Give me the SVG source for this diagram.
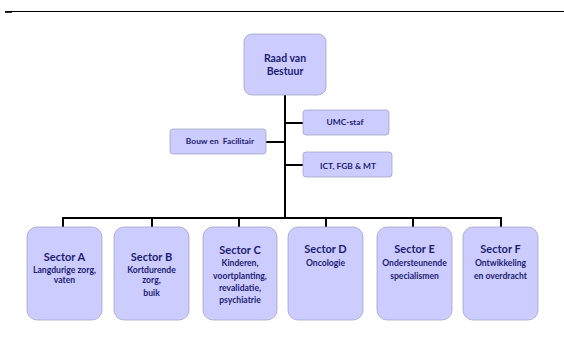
<svg xmlns="http://www.w3.org/2000/svg" width="564" height="339" viewBox="0 0 564 339">
<style>
.box{fill:#ccccff;stroke:#a3a3c8;stroke-width:0.8}
.t{font-family:Lato,"Open Sans",sans-serif;font-weight:bold;fill:#1c1c72;text-anchor:middle}
.h{font-size:11px}
.s{font-size:8.6px}
.m{font-size:10.5px}
.x{font-size:8.4px}
.c{stroke:#000;stroke-width:2;fill:none}
</style>
<rect width="564" height="339" fill="#fff"/>
<line x1="5" y1="11.5" x2="564" y2="11.5" stroke="#000" stroke-width="1.2"/>
<rect x="5" y="11" width="7" height="1.8" fill="#000"/>
<g id="connectors">
<path class="c" d="M285 95V218M63 227V218H501V227M152 218V227M239 218V227M326 218V227M413 218V227M266 142H285M285 123H303M285 165H303"/>
</g>
<g id="raad"><rect class="box" x="244" y="34" width="82" height="61" rx="8"/>
<text class="t m" x="285" y="62">Raad van</text><text class="t m" x="285" y="75">Bestuur</text></g>
<g id="umc"><rect class="box" x="303" y="110" width="86" height="25" rx="3"/>
<text class="t x" x="345" y="124.5">UMC-staf</text></g>
<g id="bouw"><rect class="box" x="170" y="129" width="96" height="25" rx="3"/>
<text class="t x" x="220" y="144" xml:space="preserve">Bouw en  Facilitair</text></g>
<g id="ict"><rect class="box" x="303" y="152" width="89" height="25" rx="3"/>
<text class="t x" x="348" y="169">ICT, FGB &amp; MT</text></g>
<g id="sectorA"><rect class="box" x="27" y="227" width="75" height="93" rx="10"/>
<text class="t h" x="64.5" y="261">Sector A</text>
<text class="t s" x="64.5" y="273">Langdurige zorg,</text>
<text class="t s" x="64.5" y="283">vaten</text></g>
<g id="sectorB"><rect class="box" x="114" y="227" width="75" height="93" rx="10"/>
<text class="t h" x="151.5" y="261">Sector B</text>
<text class="t s" x="151.5" y="273">Kortdurende</text>
<text class="t s" x="151.5" y="282.5">zorg,</text>
<text class="t s" x="151.5" y="296">buik</text></g>
<g id="sectorC"><rect class="box" x="203" y="227" width="74" height="93" rx="10"/>
<text class="t h" x="240" y="254">Sector C</text>
<text class="t s" x="240" y="266">Kinderen,</text>
<text class="t s" x="240" y="279">voortplanting,</text>
<text class="t s" x="240" y="291">revalidatie,</text>
<text class="t s" x="240" y="302.5">psychiatrie</text></g>
<g id="sectorD"><rect class="box" x="288" y="227" width="75" height="93" rx="10"/>
<text class="t h" x="325.5" y="253">Sector D</text>
<text class="t s" x="325.5" y="265.5">Oncologie</text></g>
<g id="sectorE"><rect class="box" x="377" y="227" width="75" height="93" rx="10"/>
<text class="t h" x="414.5" y="253">Sector E</text>
<text class="t s" x="414.5" y="265.5">Ondersteunende</text>
<text class="t s" x="414.5" y="278.5">specialismen</text></g>
<g id="sectorF"><rect class="box" x="463" y="227" width="75" height="93" rx="10"/>
<text class="t h" x="500.5" y="253">Sector F</text>
<text class="t s" x="500.5" y="265.5">Ontwikkeling</text>
<text class="t s" x="500.5" y="278.5">en overdracht</text></g>
</svg>
